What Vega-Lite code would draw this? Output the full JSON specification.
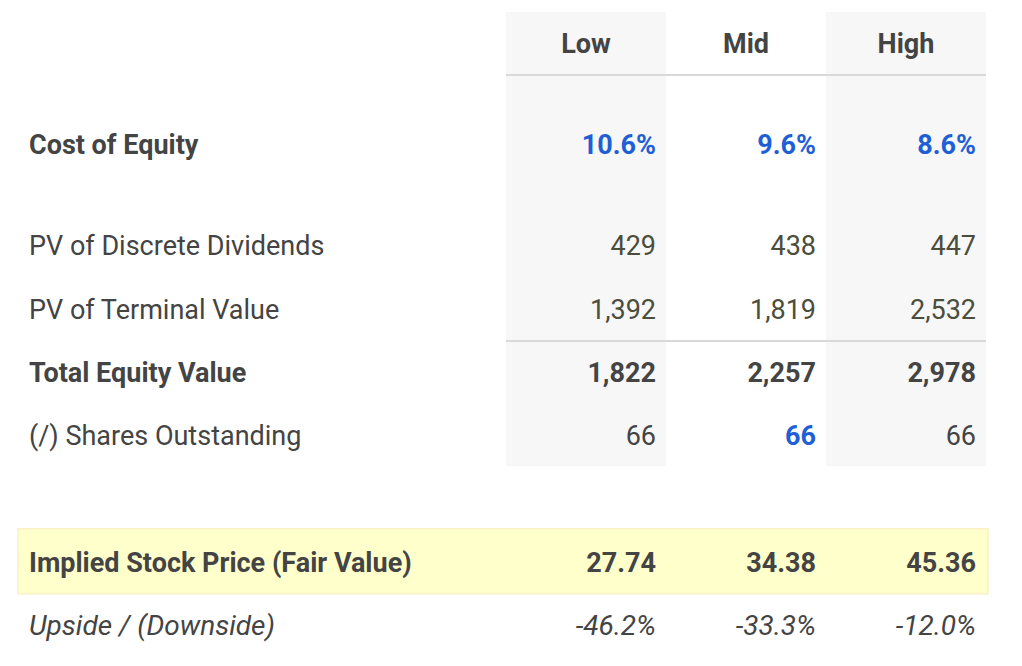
{
  "$schema": "https://vega.github.io/schema/vega-lite/v6.json",
  "width": 1022,
  "height": 666,
  "padding": 0,
  "autosize": {"type": "none"},
  "background": "white",
  "config": {
    "view": {"stroke": null},
    "text": {"font": "Roboto", "fontSize": 27, "baseline": "middle", "dy": 2},
    "locale": {"number": {"decimal": ".", "thousands": ",", "grouping": [3], "currency": ["$", ""], "minus": "-"}}
  },
  "data": {"values": [
    {"metric": "Cost of Equity", "scenario": "Low", "value": 0.106},
    {"metric": "Cost of Equity", "scenario": "Mid", "value": 0.096},
    {"metric": "Cost of Equity", "scenario": "High", "value": 0.086},
    {"metric": "PV of Discrete Dividends", "scenario": "Low", "value": 429},
    {"metric": "PV of Discrete Dividends", "scenario": "Mid", "value": 438},
    {"metric": "PV of Discrete Dividends", "scenario": "High", "value": 447},
    {"metric": "PV of Terminal Value", "scenario": "Low", "value": 1392},
    {"metric": "PV of Terminal Value", "scenario": "Mid", "value": 1819},
    {"metric": "PV of Terminal Value", "scenario": "High", "value": 2532},
    {"metric": "Total Equity Value", "scenario": "Low", "value": 1822},
    {"metric": "Total Equity Value", "scenario": "Mid", "value": 2257},
    {"metric": "Total Equity Value", "scenario": "High", "value": 2978},
    {"metric": "(/) Shares Outstanding", "scenario": "Low", "value": 66},
    {"metric": "(/) Shares Outstanding", "scenario": "Mid", "value": 66},
    {"metric": "(/) Shares Outstanding", "scenario": "High", "value": 66},
    {"metric": "Implied Stock Price (Fair Value)", "scenario": "Low", "value": 27.74},
    {"metric": "Implied Stock Price (Fair Value)", "scenario": "Mid", "value": 34.38},
    {"metric": "Implied Stock Price (Fair Value)", "scenario": "High", "value": 45.36},
    {"metric": "Upside / (Downside)", "scenario": "Low", "value": -0.462},
    {"metric": "Upside / (Downside)", "scenario": "Mid", "value": -0.333},
    {"metric": "Upside / (Downside)", "scenario": "High", "value": -0.12}
  ]},
  "layer": [
    {
      "transform": [{"filter": "datum.metric === 'Cost of Equity' && datum.scenario !== 'Mid'"}],
      "mark": {"type": "rect", "width": 160, "fill": "#f7f7f7", "yOffset": -31, "y2Offset": 31},
      "encoding": {
        "x": {"field": "scenario", "type": "nominal", "axis": null, "scale": {"type": "point", "domain": ["label", "x1", "x2", "x3", "x4", "x5", "x6", "Low", "x8", "Mid", "x10", "High"], "padding": 0.8875, "align": 0.183}},
        "y": {"datum": "Header", "type": "nominal", "axis": null, "scale": {"type": "point", "domain": ["t1", "t2", "t3", "Header", "y1", "y2", "y3", "y4", "y5", "y6", "y7", "Cost of Equity", "y9", "y10", "y11", "y12", "y13", "y14", "y15", "PV of Discrete Dividends", "y17", "y18", "y19", "y20", "PV of Terminal Value", "y22", "y23", "y24", "y25", "Total Equity Value", "y27", "y28", "y29", "y30", "(/) Shares Outstanding", "y32", "y33", "y34", "y35", "y36", "y37", "y38", "y39", "y40", "Implied Stock Price (Fair Value)", "y42", "y43", "y44", "y45", "Upside / (Downside)", "b1", "b2", "b3"], "padding": 0.32, "align": 0.622}},
        "y2": {"datum": "(/) Shares Outstanding"}
      }
    },
    {
      "transform": [{"filter": "datum.metric === 'Implied Stock Price (Fair Value)' && datum.scenario === 'Low'"}],
      "mark": {"type": "rect", "fill": "#ffffcc", "stroke": "#fcf0c4", "strokeWidth": 1.5, "xOffset": -8, "x2Offset": 82, "yOffset": -33, "y2Offset": 32},
      "encoding": {
        "x": {"datum": "label", "type": "nominal", "axis": null, "scale": {"type": "point", "domain": ["label", "x1", "x2", "x3", "x4", "x5", "x6", "Low", "x8", "Mid", "x10", "High"], "padding": 0.8875, "align": 0.183}},
        "x2": {"datum": "High"},
        "y": {"field": "metric", "type": "nominal", "axis": null, "scale": {"type": "point", "domain": ["t1", "t2", "t3", "Header", "y1", "y2", "y3", "y4", "y5", "y6", "y7", "Cost of Equity", "y9", "y10", "y11", "y12", "y13", "y14", "y15", "PV of Discrete Dividends", "y17", "y18", "y19", "y20", "PV of Terminal Value", "y22", "y23", "y24", "y25", "Total Equity Value", "y27", "y28", "y29", "y30", "(/) Shares Outstanding", "y32", "y33", "y34", "y35", "y36", "y37", "y38", "y39", "y40", "Implied Stock Price (Fair Value)", "y42", "y43", "y44", "y45", "Upside / (Downside)", "b1", "b2", "b3"], "padding": 0.32, "align": 0.622}},
        "y2": {"datum": "Implied Stock Price (Fair Value)"}
      }
    },
    {
      "transform": [{"filter": "datum.metric === 'Cost of Equity' && datum.scenario === 'Low'"}],
      "mark": {"type": "rule", "color": "#d9d9d9", "strokeWidth": 2, "xOffset": -80, "x2Offset": 80, "yOffset": 32},
      "encoding": {
        "x": {"datum": "Low", "type": "nominal", "axis": null, "scale": {"type": "point", "domain": ["label", "x1", "x2", "x3", "x4", "x5", "x6", "Low", "x8", "Mid", "x10", "High"], "padding": 0.8875, "align": 0.183}},
        "x2": {"datum": "High"},
        "y": {"datum": "Header", "type": "nominal", "axis": null, "scale": {"type": "point", "domain": ["t1", "t2", "t3", "Header", "y1", "y2", "y3", "y4", "y5", "y6", "y7", "Cost of Equity", "y9", "y10", "y11", "y12", "y13", "y14", "y15", "PV of Discrete Dividends", "y17", "y18", "y19", "y20", "PV of Terminal Value", "y22", "y23", "y24", "y25", "Total Equity Value", "y27", "y28", "y29", "y30", "(/) Shares Outstanding", "y32", "y33", "y34", "y35", "y36", "y37", "y38", "y39", "y40", "Implied Stock Price (Fair Value)", "y42", "y43", "y44", "y45", "Upside / (Downside)", "b1", "b2", "b3"], "padding": 0.32, "align": 0.622}}
      }
    },
    {
      "transform": [{"filter": "datum.metric === 'Total Equity Value' && datum.scenario === 'Low'"}],
      "mark": {"type": "rule", "color": "#d9d9d9", "strokeWidth": 2, "xOffset": -80, "x2Offset": 80, "yOffset": -31},
      "encoding": {
        "x": {"datum": "Low", "type": "nominal", "axis": null, "scale": {"type": "point", "domain": ["label", "x1", "x2", "x3", "x4", "x5", "x6", "Low", "x8", "Mid", "x10", "High"], "padding": 0.8875, "align": 0.183}},
        "x2": {"datum": "High"},
        "y": {"field": "metric", "type": "nominal", "axis": null, "scale": {"type": "point", "domain": ["t1", "t2", "t3", "Header", "y1", "y2", "y3", "y4", "y5", "y6", "y7", "Cost of Equity", "y9", "y10", "y11", "y12", "y13", "y14", "y15", "PV of Discrete Dividends", "y17", "y18", "y19", "y20", "PV of Terminal Value", "y22", "y23", "y24", "y25", "Total Equity Value", "y27", "y28", "y29", "y30", "(/) Shares Outstanding", "y32", "y33", "y34", "y35", "y36", "y37", "y38", "y39", "y40", "Implied Stock Price (Fair Value)", "y42", "y43", "y44", "y45", "Upside / (Downside)", "b1", "b2", "b3"], "padding": 0.32, "align": 0.622}}
      }
    },
    {
      "transform": [{"filter": "datum.metric === 'Cost of Equity'"}],
      "mark": {"type": "text", "fontWeight": "bold", "color": "#444444", "align": "center"},
      "encoding": {
        "x": {"field": "scenario", "type": "nominal", "axis": null, "scale": {"type": "point", "domain": ["label", "x1", "x2", "x3", "x4", "x5", "x6", "Low", "x8", "Mid", "x10", "High"], "padding": 0.8875, "align": 0.183}},
        "y": {"datum": "Header", "type": "nominal", "axis": null, "scale": {"type": "point", "domain": ["t1", "t2", "t3", "Header", "y1", "y2", "y3", "y4", "y5", "y6", "y7", "Cost of Equity", "y9", "y10", "y11", "y12", "y13", "y14", "y15", "PV of Discrete Dividends", "y17", "y18", "y19", "y20", "PV of Terminal Value", "y22", "y23", "y24", "y25", "Total Equity Value", "y27", "y28", "y29", "y30", "(/) Shares Outstanding", "y32", "y33", "y34", "y35", "y36", "y37", "y38", "y39", "y40", "Implied Stock Price (Fair Value)", "y42", "y43", "y44", "y45", "Upside / (Downside)", "b1", "b2", "b3"], "padding": 0.32, "align": 0.622}},
        "text": {"field": "scenario"}
      }
    },
    {
      "transform": [{"filter": "datum.scenario === 'Low' && indexof(['PV of Discrete Dividends', 'PV of Terminal Value', '(/) Shares Outstanding'], datum.metric) >= 0"}],
      "mark": {"type": "text", "color": "#444444", "align": "left", "dx": 3},
      "encoding": {
        "x": {"datum": "label", "type": "nominal", "axis": null, "scale": {"type": "point", "domain": ["label", "x1", "x2", "x3", "x4", "x5", "x6", "Low", "x8", "Mid", "x10", "High"], "padding": 0.8875, "align": 0.183}},
        "y": {"field": "metric", "type": "nominal", "axis": null, "scale": {"type": "point", "domain": ["t1", "t2", "t3", "Header", "y1", "y2", "y3", "y4", "y5", "y6", "y7", "Cost of Equity", "y9", "y10", "y11", "y12", "y13", "y14", "y15", "PV of Discrete Dividends", "y17", "y18", "y19", "y20", "PV of Terminal Value", "y22", "y23", "y24", "y25", "Total Equity Value", "y27", "y28", "y29", "y30", "(/) Shares Outstanding", "y32", "y33", "y34", "y35", "y36", "y37", "y38", "y39", "y40", "Implied Stock Price (Fair Value)", "y42", "y43", "y44", "y45", "Upside / (Downside)", "b1", "b2", "b3"], "padding": 0.32, "align": 0.622}},
        "text": {"field": "metric"}
      }
    },
    {
      "transform": [{"filter": "datum.scenario === 'Low' && indexof(['Cost of Equity', 'Total Equity Value', 'Implied Stock Price (Fair Value)'], datum.metric) >= 0"}],
      "mark": {"type": "text", "color": "#444444", "fontWeight": "bold", "align": "left", "dx": 3},
      "encoding": {
        "x": {"datum": "label", "type": "nominal", "axis": null, "scale": {"type": "point", "domain": ["label", "x1", "x2", "x3", "x4", "x5", "x6", "Low", "x8", "Mid", "x10", "High"], "padding": 0.8875, "align": 0.183}},
        "y": {"field": "metric", "type": "nominal", "axis": null, "scale": {"type": "point", "domain": ["t1", "t2", "t3", "Header", "y1", "y2", "y3", "y4", "y5", "y6", "y7", "Cost of Equity", "y9", "y10", "y11", "y12", "y13", "y14", "y15", "PV of Discrete Dividends", "y17", "y18", "y19", "y20", "PV of Terminal Value", "y22", "y23", "y24", "y25", "Total Equity Value", "y27", "y28", "y29", "y30", "(/) Shares Outstanding", "y32", "y33", "y34", "y35", "y36", "y37", "y38", "y39", "y40", "Implied Stock Price (Fair Value)", "y42", "y43", "y44", "y45", "Upside / (Downside)", "b1", "b2", "b3"], "padding": 0.32, "align": 0.622}},
        "text": {"field": "metric"}
      }
    },
    {
      "transform": [{"filter": "datum.scenario === 'Low' && datum.metric === 'Upside / (Downside)'"}],
      "mark": {"type": "text", "color": "#444444", "fontStyle": "italic", "fontSize": 28, "align": "left", "dx": 3},
      "encoding": {
        "x": {"datum": "label", "type": "nominal", "axis": null, "scale": {"type": "point", "domain": ["label", "x1", "x2", "x3", "x4", "x5", "x6", "Low", "x8", "Mid", "x10", "High"], "padding": 0.8875, "align": 0.183}},
        "y": {"field": "metric", "type": "nominal", "axis": null, "scale": {"type": "point", "domain": ["t1", "t2", "t3", "Header", "y1", "y2", "y3", "y4", "y5", "y6", "y7", "Cost of Equity", "y9", "y10", "y11", "y12", "y13", "y14", "y15", "PV of Discrete Dividends", "y17", "y18", "y19", "y20", "PV of Terminal Value", "y22", "y23", "y24", "y25", "Total Equity Value", "y27", "y28", "y29", "y30", "(/) Shares Outstanding", "y32", "y33", "y34", "y35", "y36", "y37", "y38", "y39", "y40", "Implied Stock Price (Fair Value)", "y42", "y43", "y44", "y45", "Upside / (Downside)", "b1", "b2", "b3"], "padding": 0.32, "align": 0.622}},
        "text": {"field": "metric"}
      }
    },
    {
      "transform": [{"filter": "datum.metric === 'Cost of Equity'"}],
      "mark": {"type": "text", "color": "#1f5fd6", "fontWeight": "bold", "align": "right", "dx": 70},
      "encoding": {
        "x": {"field": "scenario", "type": "nominal", "axis": null, "scale": {"type": "point", "domain": ["label", "x1", "x2", "x3", "x4", "x5", "x6", "Low", "x8", "Mid", "x10", "High"], "padding": 0.8875, "align": 0.183}},
        "y": {"field": "metric", "type": "nominal", "axis": null, "scale": {"type": "point", "domain": ["t1", "t2", "t3", "Header", "y1", "y2", "y3", "y4", "y5", "y6", "y7", "Cost of Equity", "y9", "y10", "y11", "y12", "y13", "y14", "y15", "PV of Discrete Dividends", "y17", "y18", "y19", "y20", "PV of Terminal Value", "y22", "y23", "y24", "y25", "Total Equity Value", "y27", "y28", "y29", "y30", "(/) Shares Outstanding", "y32", "y33", "y34", "y35", "y36", "y37", "y38", "y39", "y40", "Implied Stock Price (Fair Value)", "y42", "y43", "y44", "y45", "Upside / (Downside)", "b1", "b2", "b3"], "padding": 0.32, "align": 0.622}},
        "text": {"field": "value", "type": "quantitative", "format": ".1%"}
      }
    },
    {
      "transform": [{"filter": "datum.metric === '(/) Shares Outstanding' && datum.scenario === 'Mid'"}],
      "mark": {"type": "text", "color": "#1f5fd6", "fontWeight": "bold", "align": "right", "dx": 70},
      "encoding": {
        "x": {"field": "scenario", "type": "nominal", "axis": null, "scale": {"type": "point", "domain": ["label", "x1", "x2", "x3", "x4", "x5", "x6", "Low", "x8", "Mid", "x10", "High"], "padding": 0.8875, "align": 0.183}},
        "y": {"field": "metric", "type": "nominal", "axis": null, "scale": {"type": "point", "domain": ["t1", "t2", "t3", "Header", "y1", "y2", "y3", "y4", "y5", "y6", "y7", "Cost of Equity", "y9", "y10", "y11", "y12", "y13", "y14", "y15", "PV of Discrete Dividends", "y17", "y18", "y19", "y20", "PV of Terminal Value", "y22", "y23", "y24", "y25", "Total Equity Value", "y27", "y28", "y29", "y30", "(/) Shares Outstanding", "y32", "y33", "y34", "y35", "y36", "y37", "y38", "y39", "y40", "Implied Stock Price (Fair Value)", "y42", "y43", "y44", "y45", "Upside / (Downside)", "b1", "b2", "b3"], "padding": 0.32, "align": 0.622}},
        "text": {"field": "value", "type": "quantitative", "format": ",.0f"}
      }
    },
    {
      "transform": [{"filter": "datum.metric === 'PV of Discrete Dividends' || datum.metric === 'PV of Terminal Value'"}],
      "mark": {"type": "text", "color": "#4b4d3d", "align": "right", "dx": 70},
      "encoding": {
        "x": {"field": "scenario", "type": "nominal", "axis": null, "scale": {"type": "point", "domain": ["label", "x1", "x2", "x3", "x4", "x5", "x6", "Low", "x8", "Mid", "x10", "High"], "padding": 0.8875, "align": 0.183}},
        "y": {"field": "metric", "type": "nominal", "axis": null, "scale": {"type": "point", "domain": ["t1", "t2", "t3", "Header", "y1", "y2", "y3", "y4", "y5", "y6", "y7", "Cost of Equity", "y9", "y10", "y11", "y12", "y13", "y14", "y15", "PV of Discrete Dividends", "y17", "y18", "y19", "y20", "PV of Terminal Value", "y22", "y23", "y24", "y25", "Total Equity Value", "y27", "y28", "y29", "y30", "(/) Shares Outstanding", "y32", "y33", "y34", "y35", "y36", "y37", "y38", "y39", "y40", "Implied Stock Price (Fair Value)", "y42", "y43", "y44", "y45", "Upside / (Downside)", "b1", "b2", "b3"], "padding": 0.32, "align": 0.622}},
        "text": {"field": "value", "type": "quantitative", "format": ",.0f"}
      }
    },
    {
      "transform": [{"filter": "datum.metric === '(/) Shares Outstanding' && datum.scenario !== 'Mid'"}],
      "mark": {"type": "text", "color": "#444444", "align": "right", "dx": 70},
      "encoding": {
        "x": {"field": "scenario", "type": "nominal", "axis": null, "scale": {"type": "point", "domain": ["label", "x1", "x2", "x3", "x4", "x5", "x6", "Low", "x8", "Mid", "x10", "High"], "padding": 0.8875, "align": 0.183}},
        "y": {"field": "metric", "type": "nominal", "axis": null, "scale": {"type": "point", "domain": ["t1", "t2", "t3", "Header", "y1", "y2", "y3", "y4", "y5", "y6", "y7", "Cost of Equity", "y9", "y10", "y11", "y12", "y13", "y14", "y15", "PV of Discrete Dividends", "y17", "y18", "y19", "y20", "PV of Terminal Value", "y22", "y23", "y24", "y25", "Total Equity Value", "y27", "y28", "y29", "y30", "(/) Shares Outstanding", "y32", "y33", "y34", "y35", "y36", "y37", "y38", "y39", "y40", "Implied Stock Price (Fair Value)", "y42", "y43", "y44", "y45", "Upside / (Downside)", "b1", "b2", "b3"], "padding": 0.32, "align": 0.622}},
        "text": {"field": "value", "type": "quantitative", "format": ",.0f"}
      }
    },
    {
      "transform": [{"filter": "datum.metric === 'Total Equity Value'"}],
      "mark": {"type": "text", "color": "#444444", "fontWeight": "bold", "align": "right", "dx": 70},
      "encoding": {
        "x": {"field": "scenario", "type": "nominal", "axis": null, "scale": {"type": "point", "domain": ["label", "x1", "x2", "x3", "x4", "x5", "x6", "Low", "x8", "Mid", "x10", "High"], "padding": 0.8875, "align": 0.183}},
        "y": {"field": "metric", "type": "nominal", "axis": null, "scale": {"type": "point", "domain": ["t1", "t2", "t3", "Header", "y1", "y2", "y3", "y4", "y5", "y6", "y7", "Cost of Equity", "y9", "y10", "y11", "y12", "y13", "y14", "y15", "PV of Discrete Dividends", "y17", "y18", "y19", "y20", "PV of Terminal Value", "y22", "y23", "y24", "y25", "Total Equity Value", "y27", "y28", "y29", "y30", "(/) Shares Outstanding", "y32", "y33", "y34", "y35", "y36", "y37", "y38", "y39", "y40", "Implied Stock Price (Fair Value)", "y42", "y43", "y44", "y45", "Upside / (Downside)", "b1", "b2", "b3"], "padding": 0.32, "align": 0.622}},
        "text": {"field": "value", "type": "quantitative", "format": ",.0f"}
      }
    },
    {
      "transform": [{"filter": "datum.metric === 'Implied Stock Price (Fair Value)'"}],
      "mark": {"type": "text", "color": "#444444", "fontWeight": "bold", "align": "right", "dx": 70},
      "encoding": {
        "x": {"field": "scenario", "type": "nominal", "axis": null, "scale": {"type": "point", "domain": ["label", "x1", "x2", "x3", "x4", "x5", "x6", "Low", "x8", "Mid", "x10", "High"], "padding": 0.8875, "align": 0.183}},
        "y": {"field": "metric", "type": "nominal", "axis": null, "scale": {"type": "point", "domain": ["t1", "t2", "t3", "Header", "y1", "y2", "y3", "y4", "y5", "y6", "y7", "Cost of Equity", "y9", "y10", "y11", "y12", "y13", "y14", "y15", "PV of Discrete Dividends", "y17", "y18", "y19", "y20", "PV of Terminal Value", "y22", "y23", "y24", "y25", "Total Equity Value", "y27", "y28", "y29", "y30", "(/) Shares Outstanding", "y32", "y33", "y34", "y35", "y36", "y37", "y38", "y39", "y40", "Implied Stock Price (Fair Value)", "y42", "y43", "y44", "y45", "Upside / (Downside)", "b1", "b2", "b3"], "padding": 0.32, "align": 0.622}},
        "text": {"field": "value", "type": "quantitative", "format": ".2f"}
      }
    },
    {
      "transform": [{"filter": "datum.metric === 'Upside / (Downside)'"}],
      "mark": {"type": "text", "color": "#444444", "fontStyle": "italic", "fontSize": 28, "align": "right", "dx": 70},
      "encoding": {
        "x": {"field": "scenario", "type": "nominal", "axis": null, "scale": {"type": "point", "domain": ["label", "x1", "x2", "x3", "x4", "x5", "x6", "Low", "x8", "Mid", "x10", "High"], "padding": 0.8875, "align": 0.183}},
        "y": {"field": "metric", "type": "nominal", "axis": null, "scale": {"type": "point", "domain": ["t1", "t2", "t3", "Header", "y1", "y2", "y3", "y4", "y5", "y6", "y7", "Cost of Equity", "y9", "y10", "y11", "y12", "y13", "y14", "y15", "PV of Discrete Dividends", "y17", "y18", "y19", "y20", "PV of Terminal Value", "y22", "y23", "y24", "y25", "Total Equity Value", "y27", "y28", "y29", "y30", "(/) Shares Outstanding", "y32", "y33", "y34", "y35", "y36", "y37", "y38", "y39", "y40", "Implied Stock Price (Fair Value)", "y42", "y43", "y44", "y45", "Upside / (Downside)", "b1", "b2", "b3"], "padding": 0.32, "align": 0.622}},
        "text": {"field": "value", "type": "quantitative", "format": ".1%"}
      }
    }
  ]
}
